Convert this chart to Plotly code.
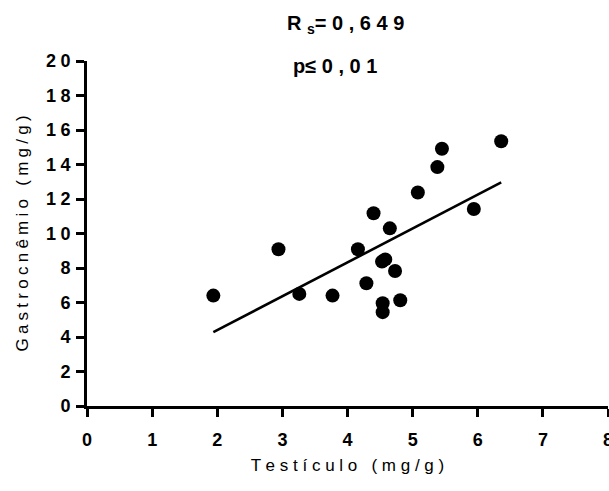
import plotly.graph_objects as go

# Testicle vs gastrocnemius concentrations (mg/g)
testiculo = [1.94, 2.94, 3.26, 3.77, 4.16, 4.29, 4.40, 4.53, 4.58, 4.65,
             4.73, 4.54, 4.54, 4.81, 5.08, 5.38, 5.45, 5.94, 6.36]
gastrocnemio = [6.40, 9.09, 6.50, 6.40, 9.09, 7.12, 11.17, 8.37, 8.50, 10.30,
                7.83, 5.96, 5.44, 6.13, 12.38, 13.85, 14.91, 11.42, 15.35]

# Regression line end points
fit_x = [1.94, 6.36]
fit_y = [4.28, 12.96]

x_ticks = [0, 1, 2, 3, 4, 5, 6, 7, 8]
y_ticks = [0, 2, 4, 6, 8, 10, 12, 14, 16, 18, 20]


def spaced(text, sep=" "):
    # widen letter spacing by placing a separator between characters
    return sep.join(text)


FONT = "Liberation Sans"

fig = go.Figure()
fig.add_trace(go.Scatter(
    x=fit_x, y=fit_y, mode="lines",
    line=dict(color="black", width=2.6),
    hoverinfo="skip", showlegend=False,
))
fig.add_trace(go.Scatter(
    x=testiculo, y=gastrocnemio, mode="markers",
    marker=dict(color="black", size=14, line=dict(width=0)),
    showlegend=False,
))

axis_common = dict(
    showline=True, linecolor="black", linewidth=2.6,
    ticks="outside", ticklen=8, tickwidth=2.6, tickcolor="black",
    showgrid=False, zeroline=False, ticklabeloverflow="allow",
    automargin=False,
    tickfont=dict(family=FONT, size=18, color="black", weight="bold"),
)

fig.update_xaxes(
    range=[0, 8], tickvals=x_ticks, ticktext=[str(v) for v in x_ticks],
    ticklabelstandoff=8,
    title=dict(text=spaced("Testículo (mg/g)"),
               font=dict(family=FONT, size=17, color="black"), standoff=10),
    **axis_common,
)
fig.update_yaxes(
    range=[0, 20], tickvals=y_ticks,
    ticktext=[spaced(str(v), "\u2005") for v in y_ticks],
    ticklabelstandoff=2,
    title=dict(text=spaced("Gastrocnêmio (mg/g)", "\u2005"),
               font=dict(family=FONT, size=17, color="black"), standoff=14),
    **axis_common,
)

fig.add_annotation(
    xref="paper", yref="paper", x=(345 - 87) / 521, y=1 + (61 - 24) / 345,
    text="R " + "<sub>s</sub>= " + spaced("0,649"),
    showarrow=False, xanchor="center", yanchor="middle",
    font=dict(family=FONT, size=20, color="black", weight="bold"),
)
fig.add_annotation(
    xref="paper", yref="paper", x=(335 - 87) / 521, y=1 + (61 - 66) / 345,
    text="p≤ " + spaced("0,01"),
    showarrow=False, xanchor="center", yanchor="middle",
    font=dict(family=FONT, size=20, color="black", weight="bold"),
)

fig.update_layout(
    width=609, height=491,
    margin=dict(l=87, r=1, t=61, b=85, autoexpand=False),
    paper_bgcolor="white", plot_bgcolor="white",
    showlegend=False,
)

fig.write_html("out.html")
